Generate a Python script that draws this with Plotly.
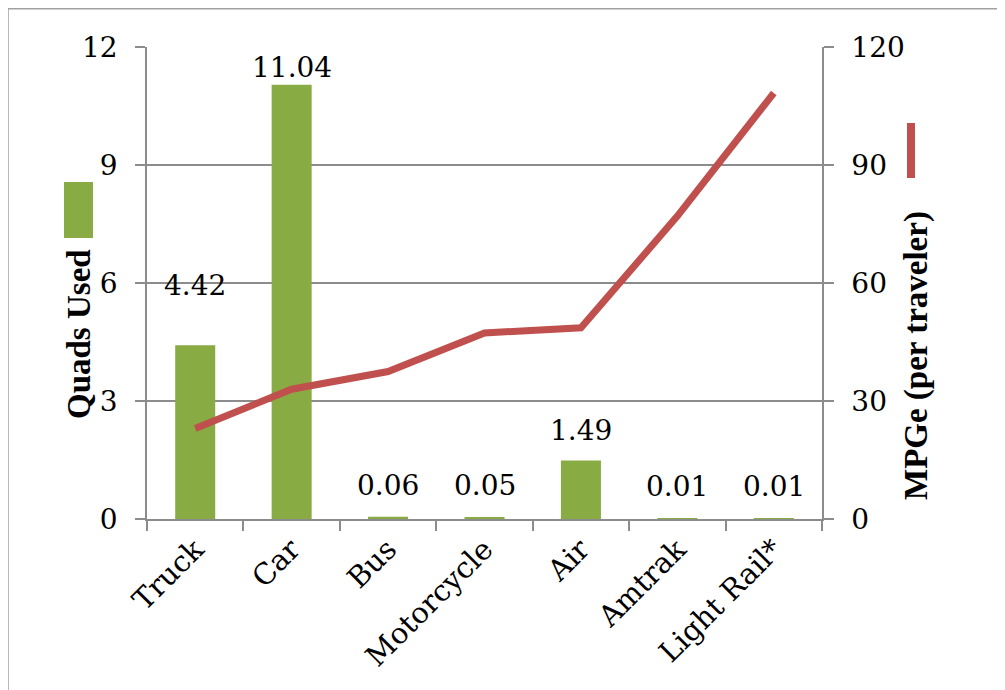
import plotly.graph_objects as go

categories = ["Truck", "Car", "Bus", "Motorcycle", "Air", "Amtrak", "Light Rail*"]
quads_used = [4.42, 11.04, 0.06, 0.05, 1.49, 0.01, 0.01]
mpge = [23, 33, 37.5, 47.3, 48.6, 77, 108.3]
quad_labels = ["4.42", "11.04", "0.06", "0.05", "1.49", "0.01", "0.01"]

# vertical pixel gap between each bar top and its label (style only)
label_gaps = [45, 3, 17, 17, 15, 18, 18]

FONT = "DejaVu Serif"
TITLE_FONT = "Liberation Serif"
GRAY = "#8c8c8c"
GREEN = "#89ab43"
RED = "#c0504d"

OFF = 8  # page body margin
W, H = 1005, 690
L, R, T, B = 147 - OFF, 822 - OFF, 47 - OFF, 519 - OFF  # plot area in figure pixels


def px_x(px):
    return (px - OFF - L) / (R - L)


def px_y(py):
    return (B - (py - OFF)) / (B - T)


fig = go.Figure()
fig.add_trace(go.Bar(
    x=categories, y=quads_used, name="Quads Used",
    marker=dict(color=GREEN, line=dict(width=0)),
    width=0.415, yaxis="y",
))
fig.add_trace(go.Scatter(
    x=categories, y=mpge, name="MPGe (per traveler)",
    mode="lines", line=dict(color=RED, width=7),
    yaxis="y2",
))

shapes = [
    # outer border
    dict(type="line", xref="paper", yref="paper", x0=px_x(8), x1=px_x(1020),
         y0=px_y(8.7), y1=px_y(8.7), line=dict(color="#a0a0a0", width=1.5)),
    dict(type="line", xref="paper", yref="paper", x0=px_x(8), x1=px_x(8),
         y0=px_y(8), y1=px_y(710), line=dict(color="#a0a0a0", width=1.5)),
    # legend keys
    dict(type="rect", xref="paper", yref="paper", x0=px_x(64), x1=px_x(93),
         y0=px_y(238), y1=px_y(182), fillcolor=GREEN, line=dict(width=0)),
    dict(type="rect", xref="paper", yref="paper", x0=px_x(907), x1=px_x(915),
         y0=px_y(178), y1=px_y(123), fillcolor=RED, line=dict(width=0)),
]

annotations = [
    dict(text="<b>Quads Used</b>", xref="paper", yref="paper", x=px_x(79), y=px_y(334),
         xanchor="center", yanchor="middle", textangle=-90, showarrow=False,
         font=dict(family=TITLE_FONT, size=33, color="black")),
    dict(text="<b>MPGe (per traveler)</b>", xref="paper", yref="paper", x=px_x(917), y=px_y(356),
         xanchor="center", yanchor="middle", textangle=-90, showarrow=False,
         font=dict(family=TITLE_FONT, size=33, color="black")),
]
for cat, val, lab, gap in zip(categories, quads_used, quad_labels, label_gaps):
    annotations.append(dict(
        text=lab, x=cat, y=val, xref="x", yref="y", xanchor="center", yanchor="bottom",
        yshift=gap - 4, showarrow=False, font=dict(family=FONT, size=28, color="black"),
    ))

fig.update_layout(
    width=W, height=H,
    margin=dict(l=L, r=W - R, t=T, b=H - B, pad=0),
    paper_bgcolor="white", plot_bgcolor="white",
    showlegend=False,
    font=dict(family=FONT, size=28, color="black"),
    shapes=shapes, annotations=annotations,
    xaxis=dict(
        type="category", tickangle=-45, ticks="outside", ticklen=10, tickcolor=GRAY,
        tickwidth=1.5, tickson="boundaries", showline=True, linecolor=GRAY, linewidth=1.5,
        showgrid=False, tickfont=dict(family=FONT, size=29, color="black"),
    ),
    yaxis=dict(
        range=[0, 12], dtick=3, tick0=0, ticks="outside", ticklen=10, tickcolor=GRAY,
        tickwidth=1.5, showline=True, linecolor=GRAY, linewidth=1.5,
        showgrid=True, gridcolor=GRAY, gridwidth=1.5, zeroline=False,
        tickfont=dict(family=FONT, size=28, color="black"), ticklabelstandoff=12,
    ),
    yaxis2=dict(
        range=[0, 120], dtick=30, tick0=0, overlaying="y", side="right",
        ticks="outside", ticklen=10, tickcolor=GRAY, tickwidth=1.5,
        showline=True, linecolor=GRAY, linewidth=1.5, showgrid=False, zeroline=False,
        tickfont=dict(family=FONT, size=28, color="black"), ticklabelstandoff=12,
    ),
)

fig.write_html("out.html")
